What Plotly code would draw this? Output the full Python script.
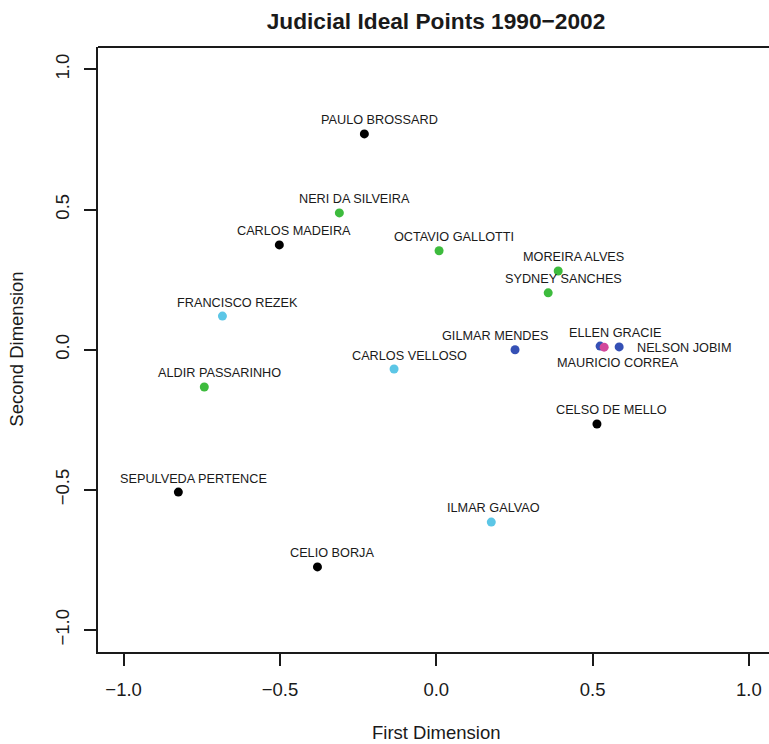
import plotly.graph_objects as go

# ---- data ----
judges = ["PAULO BROSSARD", "NERI DA SILVEIRA", "CARLOS MADEIRA", "OCTAVIO GALLOTTI",
          "MOREIRA ALVES", "SYDNEY SANCHES", "FRANCISCO REZEK", "GILMAR MENDES",
          "ELLEN GRACIE", "MAURICIO CORREA", "NELSON JOBIM", "CARLOS VELLOSO",
          "ALDIR PASSARINHO", "CELSO DE MELLO", "SEPULVEDA PERTENCE", "ILMAR GALVAO",
          "CELIO BORJA"]
first_dim = [-0.230, -0.310, -0.502, 0.009, 0.390, 0.358, -0.684, 0.252,
             0.524, 0.537, 0.585, -0.135, -0.742, 0.514, -0.825, 0.176, -0.380]
second_dim = [0.770, 0.488, 0.374, 0.353, 0.281, 0.203, 0.120, 0.000,
              0.013, 0.009, 0.010, -0.069, -0.133, -0.265, -0.508, -0.615, -0.775]
group = ["black", "green", "black", "green", "green", "green", "lightblue", "blue",
         "blue", "pink", "blue", "lightblue", "green", "black", "black", "lightblue",
         "black"]
label_place = ["above", "above", "above", "above", "above", "above", "above", "above_left",
               "above", "below", "right", "above", "above", "above", "above", "above_mid",
               "above"]
tick_vals = [-1.0, -0.5, 0.0, 0.5, 1.0]

# ---- styles ----
palette = {"black": "#000000", "green": "#3dbb3d", "lightblue": "#5cc6e6",
           "blue": "#3550b5", "pink": "#d2479b"}
place_style = {
    "above": dict(xshift=15, yshift=13.5, xanchor="center", yanchor="middle"),
    "above_left": dict(xshift=-20, yshift=14, xanchor="center", yanchor="middle"),
    "above_mid": dict(xshift=2, yshift=14, xanchor="center", yanchor="middle"),
    "below": dict(xshift=14, yshift=-16, xanchor="center", yanchor="middle"),
    "right": dict(xshift=16, yshift=-1, xanchor="left", yanchor="middle"),
}
FONT = "Liberation Sans, Arial, Helvetica, sans-serif"
INK = "#1a1a1a"

fig = go.Figure()
fig.add_trace(go.Scatter(
    x=first_dim, y=second_dim, mode="markers",
    marker=dict(size=9, color=[palette[g] for g in group], line=dict(width=0)),
    showlegend=False, hoverinfo="text", text=judges,
))

annotations = []
for name, xv, yv, pl in zip(judges, first_dim, second_dim, label_place):
    annotations.append(dict(x=xv, y=yv, xref="x", yref="y", text=name, showarrow=False,
                            font=dict(family=FONT, size=12.7, color=INK),
                            **place_style[pl]))

annotations.append(dict(text="First Dimension", x=0.0, xref="x", y=-(732 - 652) / 605,
                        yref="paper", showarrow=False, xanchor="center", yanchor="middle",
                        font=dict(family=FONT, size=18.5, color=INK)))
annotations.append(dict(text="Second Dimension", x=(17 - 98) / 671, xref="paper", y=0.0,
                        yref="y", showarrow=False, xanchor="center", yanchor="middle",
                        textangle=-90, font=dict(family=FONT, size=18.5, color=INK)))

fig.update_layout(
    width=769, height=744,
    margin=dict(l=98, r=0, t=47, b=92, pad=0),
    paper_bgcolor="white", plot_bgcolor="white",
    title=dict(text="<b>Judicial Ideal Points 1990\u22122002</b>",
               x=436 / 769, xref="container", xanchor="center",
               y=1 - 21 / 744, yref="container", yanchor="middle",
               font=dict(family=FONT, size=22.7, color=INK)),
    annotations=annotations,
    shapes=[dict(type="line", xref="paper", yref="paper", x0=0, x1=1, y0=1, y1=1,
                 line=dict(color=INK, width=2))],
)
fig.update_xaxes(range=[-1.082, 1.0643], tickvals=tick_vals, tickformat=".1f",
                 showgrid=False, zeroline=False, showline=True, linecolor=INK, linewidth=2,
                 ticks="outside", ticklen=12, tickwidth=1.6, tickcolor=INK,
                 tickfont=dict(family=FONT, size=18.5, color=INK), ticklabelstandoff=8)
fig.update_yaxes(range=[-1.0785, 1.080], tickvals=tick_vals, tickformat=".1f",
                 showgrid=False, zeroline=False, showline=True, linecolor=INK, linewidth=2,
                 ticks="outside", ticklen=12, tickwidth=1.6, tickcolor=INK, tickangle=-90,
                 tickfont=dict(family=FONT, size=18.5, color=INK), ticklabelstandoff=8)

fig.write_html("out.html",
               config={"displayModeBar": False},
               post_script="document.body.style.margin='0';"
                           "document.body.style.overflow='hidden';")
